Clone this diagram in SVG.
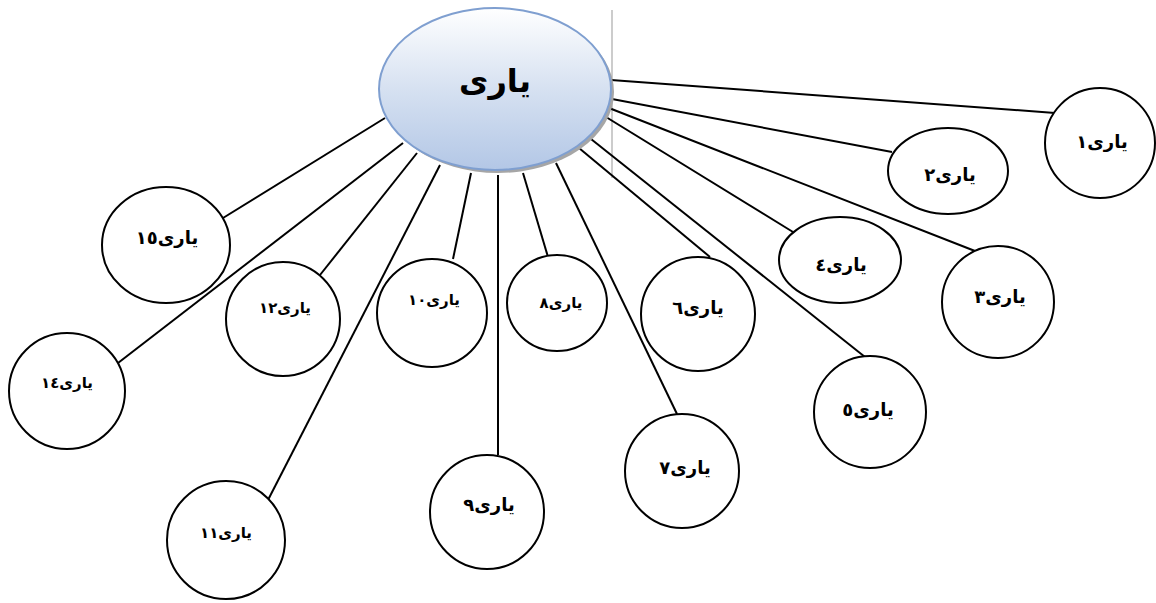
<svg xmlns="http://www.w3.org/2000/svg" width="1156" height="603" viewBox="0 0 1156 603">
<defs>
<linearGradient id="g" x1="0" y1="0" x2="0" y2="1">
<stop offset="0" stop-color="#ffffff"/>
<stop offset="0.5" stop-color="#d6e1f1"/>
<stop offset="1" stop-color="#b3c7e6"/>
</linearGradient>
</defs>
<style>
.n{fill:#fff;stroke:#000;stroke-width:2}
.c line{stroke:#000;stroke-width:2}
.t{font-family:"DejaVu Sans",sans-serif;font-weight:bold;font-size:18px;text-anchor:middle;direction:rtl;fill:#000}
.s{font-size:15px}
</style>
<rect width="1156" height="603" fill="#fff"/>
<line x1="612" y1="10" x2="612" y2="178" stroke="#999" stroke-width="1"/>
<g id="connectors" class="c">
<line x1="611" y1="80" x2="1055" y2="113"/>
<line x1="612" y1="99" x2="892" y2="152"/>
<line x1="609" y1="108" x2="975" y2="251"/>
<line x1="606" y1="117" x2="793" y2="232"/>
<line x1="591" y1="139" x2="865" y2="357"/>
<line x1="579" y1="148" x2="710" y2="257"/>
<line x1="556" y1="163" x2="677" y2="414"/>
<line x1="523" y1="173" x2="548" y2="257"/>
<line x1="498" y1="175" x2="498" y2="455"/>
<line x1="471" y1="173" x2="453" y2="259"/>
<line x1="440" y1="165" x2="268" y2="500"/>
<line x1="417" y1="153" x2="320" y2="275"/>
<line x1="403" y1="143" x2="118" y2="363"/>
<line x1="385" y1="118" x2="223" y2="218"/>
</g>
<g id="center">
<ellipse cx="498" cy="92" rx="116" ry="81" fill="#a6a6a6"/>
<ellipse cx="495" cy="89" rx="116" ry="81" fill="url(#g)" stroke="#7f9fd0" stroke-width="2"/>
<text x="495" y="92" class="t" style="font-size:32px">یاری</text>
</g>
<g id="n1"><circle cx="1100" cy="143" r="55" class="n"/><text x="1102" y="148" class="t">یاری١</text></g>
<g id="n2"><ellipse cx="948" cy="171" rx="60" ry="43" class="n"/><text x="950" y="181" class="t">یاری٢</text></g>
<g id="n3"><circle cx="998" cy="302" r="56" class="n"/><text x="1000" y="303" class="t">یاری٣</text></g>
<g id="n4"><ellipse cx="840" cy="260" rx="61" ry="43" class="n"/><text x="841" y="271" class="t">یاری٤</text></g>
<g id="n5"><circle cx="870" cy="412" r="56" class="n"/><text x="868" y="416" class="t">یاری٥</text></g>
<g id="n6"><circle cx="698" cy="314" r="57" class="n"/><text x="698" y="314" class="t">یاری٦</text></g>
<g id="n7"><circle cx="682" cy="471" r="57" class="n"/><text x="685" y="474" class="t">یاری٧</text></g>
<g id="n8"><ellipse cx="557" cy="303" rx="50" ry="48" class="n"/><text x="561" y="308" class="t s">یاری٨</text></g>
<g id="n9"><circle cx="487" cy="512" r="57" class="n"/><text x="489" y="511" class="t">یاری٩</text></g>
<g id="n10"><ellipse cx="432" cy="313" rx="55" ry="54" class="n"/><text x="434" y="305" class="t s">یاری١٠</text></g>
<g id="n11"><circle cx="226" cy="540" r="59" class="n"/><text x="226" y="538" class="t s">یاری١١</text></g>
<g id="n12"><circle cx="283" cy="319" r="57" class="n"/><text x="285" y="313" class="t s">یاری١٢</text></g>
<g id="n14"><circle cx="67" cy="391" r="58" class="n"/><text x="67" y="388" class="t s">یاری١٤</text></g>
<g id="n15"><ellipse cx="166" cy="245" rx="64" ry="58" class="n"/><text x="167" y="244" class="t">یاری١٥</text></g>
</svg>
